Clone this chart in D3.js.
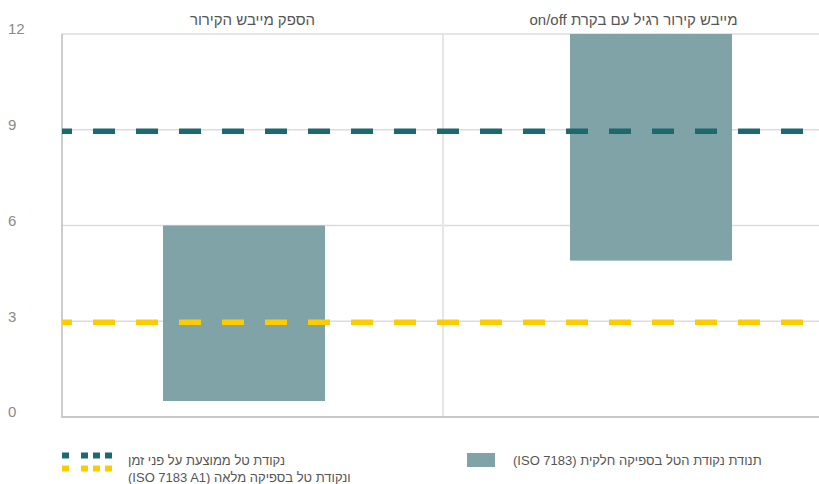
<!DOCTYPE html>
<html lang="he">
<head>
<meta charset="utf-8">
<script src="https://cdn.jsdelivr.net/npm/d3@7"></script>
<style>
  html, body { margin: 0; padding: 0; background: #fff; }
  svg { display: block; font-family: "Liberation Sans", Arial, Helvetica, sans-serif; }
</style>
</head>
<body>
<svg id="chart" width="819" height="484"></svg>
<script>
// ---- data ----
const categories = ["הספק מייבש הקירור", "מייבש קירור רגיל עם בקרת on/off"];
const rangeLow  = [0.5, 4.9];
const rangeHigh = [6, 12];
const avgDewPoint = 8.95;      // teal dashed line
const fullFlowDewPoint = 2.97; // yellow dashed line
const yTicks = [0, 3, 6, 9, 12];
const legendRangeLabel = "תנודת נקודת הטל בספיקה חלקית (ISO 7183)";
const legendLineLabels = ["נקודת טל ממוצעת על פני זמן", "ונקודת טל בספיקה מלאה (ISO 7183 A1)"];

// ---- styles ----
const barColor = "#7fa3a6";
const tealColor = "#1c6970";
const yellowColor = "#fccb00";

const svg = d3.select("#chart");
const mLeft = 62, mRight = 819, mTop = 34, mBottom = 417;

const y = d3.scaleLinear().domain([0, 12]).range([mBottom, mTop]);
// panels (titles / separator)
const xPanel = d3.scaleBand().domain(categories).range([mLeft, 824]);
// bars
const xBar = d3.scaleBand().domain(categories).range([40.5, 854.5]);
const barW = xBar.bandwidth() * 0.398;

// gridlines
svg.append("g").selectAll("line").data(yTicks.filter(d => d > 0)).join("line")
  .attr("x1", mLeft).attr("x2", mRight)
  .attr("y1", d => y(d)).attr("y2", d => y(d))
  .attr("stroke", "#dcdcdc").attr("stroke-width", 1.5);

// panel separator
svg.append("line")
  .attr("x1", xPanel(categories[1])).attr("x2", xPanel(categories[1]))
  .attr("y1", y(12)).attr("y2", y(0))
  .attr("stroke", "#e6e6e6").attr("stroke-width", 2);

// bars
svg.append("g").selectAll("rect").data(categories).join("rect")
  .attr("x", d => xBar(d) + xBar.bandwidth() / 2 - barW / 2)
  .attr("width", barW)
  .attr("y", (d, i) => y(rangeHigh[i]))
  .attr("height", (d, i) => y(rangeLow[i]) - y(rangeHigh[i]))
  .attr("fill", barColor);

// axes lines
svg.append("line").attr("x1", mLeft).attr("x2", mLeft).attr("y1", mTop).attr("y2", mBottom + 1)
  .attr("stroke", "#bdbdbd").attr("stroke-width", 1.5);
svg.append("line").attr("x1", mLeft).attr("x2", mRight).attr("y1", mBottom).attr("y2", mBottom)
  .attr("stroke", "#c8c8c8").attr("stroke-width", 2);

// dashed reference lines
[[avgDewPoint, tealColor], [fullFlowDewPoint, yellowColor]].forEach(([v, c]) => {
  svg.append("line")
    .attr("x1", mLeft).attr("x2", mRight)
    .attr("y1", y(v)).attr("y2", y(v))
    .attr("stroke", c).attr("stroke-width", 5.5)
    .attr("stroke-dasharray", "22,21").attr("stroke-dashoffset", 12);
});

// y tick labels
svg.append("g").selectAll("text").data(yTicks).join("text")
  .attr("x", 8).attr("y", d => y(d) - 5)
  .attr("dy", "0.35em")
  .attr("font-size", 15).attr("fill", "#8a8a8a")
  .text(d => d);

// panel titles
svg.append("g").selectAll("text").data(categories).join("text")
  .attr("x", d => xPanel(d) + xPanel.bandwidth() / 2)
  .attr("y", 19.5).attr("dy", "0.35em")
  .attr("text-anchor", "middle").attr("direction", "rtl")
  .attr("font-size", 15).attr("fill", "#555")
  .text(d => d);

// legend: lines
const leg = svg.append("g");
[[455.5, tealColor], [468.5, yellowColor]].forEach(([ly, c]) => {
  leg.append("line").attr("x1", 62).attr("x2", 112).attr("y1", ly).attr("y2", ly)
    .attr("stroke", c).attr("stroke-width", 6)
    .attr("stroke-dasharray", "7,12,7,5,7,5,7,100");
});
leg.selectAll("text.ll").data(legendLineLabels).join("text")
  .attr("class", "ll")
  .attr("x", 128).attr("y", (d, i) => 460 + i * 17).attr("dy", "0.35em")
  .attr("direction", "rtl").attr("text-anchor", "end")
  .attr("font-size", 13).attr("fill", "#555")
  .text(d => d);

// legend: range swatch
leg.append("rect").attr("x", 467).attr("y", 453).attr("width", 28).attr("height", 14).attr("fill", barColor);
leg.append("text")
  .attr("x", 513).attr("y", 460).attr("dy", "0.35em")
  .attr("direction", "rtl").attr("text-anchor", "end")
  .attr("font-size", 13).attr("fill", "#555")
  .text(legendRangeLabel);
</script>
</body>
</html>
